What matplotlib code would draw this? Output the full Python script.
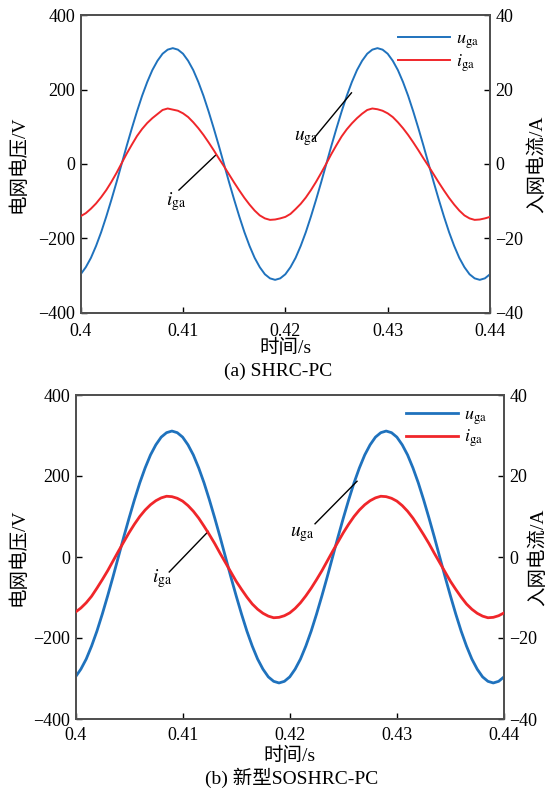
import numpy as np
import matplotlib
matplotlib.use('Agg')
from matplotlib import pyplot as plt

plt.rcParams['font.family'] = ['Liberation Serif', 'Noto Sans CJK SC']
plt.rcParams['mathtext.fontset'] = 'stix'
plt.rcParams['axes.unicode_minus'] = True

# time axis: 0.4 s .. 0.44 s, sampled every 0.5 ms
t = np.linspace(0.4, 0.44, 81)

# grid voltage u_ga (V) (same in both panels)
u_ga = [-296, -277, -252, -220, -183, -141, -96, -49, 0, 49,
        96, 141, 183, 220, 252, 277, 296, 307, 311, 307,
        296, 277, 252, 220, 183, 141, 96, 49, 0, -49,
        -96, -141, -183, -220, -252, -277, -296, -307, -311, -307,
        -296, -277, -252, -220, -183, -141, -96, -49, 0, 49,
        96, 141, 183, 220, 252, 277, 296, 307, 311, 307,
        296, 277, 252, 220, 183, 141, 96, 49, 0, -49,
        -96, -141, -183, -220, -252, -277, -296, -307, -311, -307,
        -296]

# grid current i_ga (A), panel (a) SHRC-PC
i_ga_a = [-14.0, -13.2, -12.0, -10.6, -8.9, -7.0, -4.8, -2.4, 0.2, 2.8,
          5.2, 7.5, 9.4, 11.0, 12.3, 13.4, 14.5, 14.9, 14.6, 14.3,
          13.6, 12.6, 11.2, 9.6, 7.8, 5.8, 3.7, 1.5, -0.6, -2.8,
          -5.0, -7.1, -9.1, -10.9, -12.5, -13.8, -14.6, -15.0, -14.9, -14.6,
          -14.2, -13.4, -12.1, -10.7, -9.0, -7.0, -4.8, -2.4, 0.1, 2.7,
          5.1, 7.4, 9.3, 10.9, 12.3, 13.5, 14.5, 14.9, 14.7, 14.3,
          13.6, 12.6, 11.2, 9.6, 7.8, 5.8, 3.7, 1.5, -0.6, -2.8,
          -5.0, -7.1, -9.1, -10.9, -12.5, -13.8, -14.6, -15.0, -14.9, -14.6,
          -14.2]

# grid current i_ga (A), panel (b) new SOSHRC-PC
i_ga_b = [-13.6, -12.6, -11.3, -9.7, -7.7, -5.6, -3.4, -1.0, 1.4, 3.7,
          6.0, 8.1, 10.0, 11.6, 12.9, 13.9, 14.6, 15.0, 14.9, 14.5,
          13.8, 12.7, 11.3, 9.6, 7.6, 5.5, 3.3, 0.9, -1.4, -3.7,
          -6.0, -8.0, -9.9, -11.6, -12.9, -13.9, -14.6, -15.0, -14.9, -14.5,
          -13.8, -12.7, -11.3, -9.6, -7.7, -5.6, -3.4, -1.0, 1.4, 3.7,
          6.0, 8.1, 10.0, 11.6, 12.9, 13.9, 14.6, 15.0, 14.9, 14.5,
          13.8, 12.7, 11.3, 9.6, 7.6, 5.5, 3.3, 0.9, -1.4, -3.7,
          -6.0, -8.0, -9.9, -11.6, -12.9, -13.9, -14.6, -15.0, -14.9, -14.5,
          -13.8]

xticks = [0.4, 0.41, 0.42, 0.43, 0.44]
xticklabels = ['0.4', '0.41', '0.42', '0.43', '0.44']
uticks = [-400, -200, 0, 200, 400]
iticks = [-40, -20, 0, 20, 40]

blue = '#1f72bd'
red = '#f0262a'
spine_col = '#505050'
fs = 13

W, H = 549, 792
fig = plt.figure(figsize=(W / 100, H / 100), dpi=100)

panels = [
    # axes box in pixels (left, top, right, bottom), current, line width,
    # legend anchor, callouts, captions
    dict(box=(80.7, 15, 490, 313), i=i_ga_a, lw=1.4,
         leg=(0.775, 0.948), xpad=7,
         i_lab=(0.4093, -102), i_line=((0.4096, -70), (0.4132, 24)),
         u_lab=(0.4220, 70), u_line=((0.4227, 66), (0.42646, 191)),
         ylab_x=(-0.153, 1.115),
         xlab_y=348, cap_y=371, cap_x=278, caption='(a) SHRC-PC'),
    dict(box=(75.5, 395, 504, 719), i=i_ga_b, lw=2.0,
         leg=(0.771, 0.965), xpad=6,
         i_lab=(0.4081, -53), i_line=((0.40875, -37), (0.41239, 63)),
         u_lab=(0.4212, 57), u_line=((0.42236, 82), (0.42628, 187)),
         ylab_x=(-0.134, 1.079),
         xlab_y=756, cap_y=778, cap_x=292, caption='(b) 新型SOSHRC-PC'),
]

for p in panels:
    l, tp, r, b = p['box']
    ax = fig.add_axes([l / W, 1 - b / H, (r - l) / W, (b - tp) / H])
    ax2 = ax.twinx()

    lu, = ax.plot(t, u_ga, color=blue, lw=p['lw'], zorder=3)
    li, = ax2.plot(t, p['i'], color=red, lw=p['lw'], zorder=3)

    ax.set_xlim(0.4, 0.44)
    ax.set_ylim(-400, 400)
    ax2.set_ylim(-40, 40)
    ax.set_xticks(xticks)
    ax.set_xticklabels(xticklabels)
    ax.set_yticks(uticks)
    ax2.set_yticks(iticks)

    for a in (ax, ax2):
        a.tick_params(direction='in', length=4, width=1.0, colors='black',
                      labelsize=fs, pad=4)
        for s in a.spines.values():
            s.set_color(spine_col)
            s.set_linewidth(1.3)
    ax.tick_params(axis='x', pad=p['xpad'])
    ax.tick_params(top=False)

    ax.set_ylabel('电网电压/V', fontsize=fs + 1)
    ax.yaxis.set_label_coords(p['ylab_x'][0], 0.5)
    ax2.set_ylabel('入网电流/A', fontsize=fs + 1)
    ax2.yaxis.set_label_coords(p['ylab_x'][1], 0.5)
    ax.yaxis.label.set_va('center')
    ax2.yaxis.label.set_va('center')

    fig.text(0.5 * (l + r) / W, 1 - p['xlab_y'] / H, '时间/s', fontsize=fs + 1,
             ha='center', va='center')
    fig.text(p['cap_x'] / W, 1 - p['cap_y'] / H, p['caption'], fontsize=fs + 1,
             ha='center', va='center')

    leg = ax.legend([lu, li], [r'$u_{\rm ga}$', r'$i_{\rm ga}$'],
                    loc='upper left', bbox_to_anchor=p['leg'], frameon=False,
                    fontsize=fs, handlelength=2.9, handletextpad=0.3,
                    labelspacing=0.06, borderpad=0, borderaxespad=0)
    leg.set_zorder(5)

    # callouts
    (x0, y0), (x1, y1) = p['i_line']
    ax.plot([x0, x1], [y0, y1], color='black', lw=1.0, zorder=4)
    ax.text(p['i_lab'][0], p['i_lab'][1], r'$i_{\rm ga}$', fontsize=fs + 1,
            ha='center', va='center', zorder=4)
    (x0, y0), (x1, y1) = p['u_line']
    ax.plot([x0, x1], [y0, y1], color='black', lw=1.0, zorder=4)
    ax.text(p['u_lab'][0], p['u_lab'][1], r'$u_{\rm ga}$', fontsize=fs + 1,
            ha='center', va='center', zorder=4)

fig.savefig('out.png', dpi=100)
